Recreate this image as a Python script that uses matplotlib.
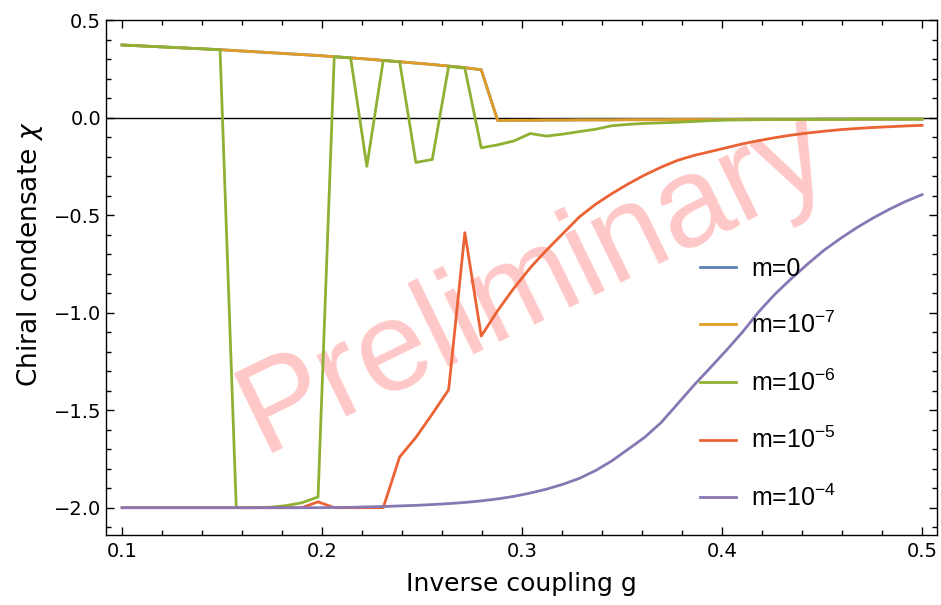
from matplotlib import pyplot as plt
from matplotlib.ticker import MultipleLocator

# inverse coupling grid
g = [0.1000, 0.1082, 0.1163, 0.1245, 0.1327, 0.1408, 0.1490, 0.1571, 0.1653, 0.1735,
     0.1816, 0.1898, 0.1980, 0.2061, 0.2143, 0.2224, 0.2306, 0.2388, 0.2469, 0.2551,
     0.2633, 0.2714, 0.2796, 0.2878, 0.2959, 0.3041, 0.3122, 0.3204, 0.3286, 0.3367,
     0.3449, 0.3531, 0.3612, 0.3694, 0.3776, 0.3857, 0.3939, 0.4020, 0.4102, 0.4184,
     0.4265, 0.4347, 0.4429, 0.4510, 0.4592, 0.4673, 0.4755, 0.4837, 0.4918, 0.5000]

chi_m7 = [0.372, 0.368, 0.364, 0.360, 0.356, 0.352, 0.348, 0.343, 0.338, 0.333,
          0.328, 0.323, 0.318, 0.312, 0.306, 0.300, 0.293, 0.286, 0.279, 0.272,
          0.264, 0.256, 0.245, -0.015, -0.014, -0.014, -0.013, -0.013, -0.012, -0.012,
          -0.012, -0.011, -0.011, -0.011, -0.010, -0.010, -0.010, -0.010, -0.009, -0.009,
          -0.009, -0.009, -0.009, -0.008, -0.008, -0.008, -0.008, -0.008, -0.008, -0.008]

chi_m0 = list(chi_m7)  # sits under the m=1e-7 curve

chi_m6 = [0.372, 0.368, 0.364, 0.360, 0.356, 0.352, 0.347, -2.000, -2.000, -1.998,
          -1.990, -1.975, -1.945, 0.312, 0.306, -0.250, 0.293, 0.286, -0.230, -0.215,
          0.262, 0.253, -0.155, -0.140, -0.120, -0.082, -0.095, -0.085, -0.072, -0.060,
          -0.042, -0.035, -0.030, -0.027, -0.024, -0.020, -0.016, -0.013, -0.012, -0.011,
          -0.010, -0.010, -0.009, -0.009, -0.009, -0.008, -0.008, -0.008, -0.008, -0.008]

chi_m5 = [-2.0, -2.0, -2.0, -2.0, -2.0, -2.0, -2.0, -2.0, -2.0, -2.0,
          -2.0, -2.0, -1.97, -2.0, -2.0, -2.0, -2.0, -1.74, -1.64, -1.52,
          -1.395, -0.59, -1.12, -0.99, -0.875, -0.77, -0.68, -0.595, -0.51, -0.445,
          -0.39, -0.34, -0.295, -0.255, -0.22, -0.195, -0.175, -0.155, -0.135, -0.118,
          -0.103, -0.09, -0.079, -0.07, -0.062, -0.056, -0.051, -0.047, -0.043, -0.04]

chi_m4 = [-2.0, -2.0, -2.0, -2.0, -2.0, -2.0, -2.0, -2.0, -2.0, -2.0,
          -2.0, -2.0, -2.0, -1.999, -1.998, -1.996, -1.994, -1.991, -1.988, -1.984,
          -1.979, -1.973, -1.965, -1.955, -1.942, -1.925, -1.905, -1.88, -1.85, -1.81,
          -1.76, -1.70, -1.64, -1.565, -1.47, -1.375, -1.285, -1.195, -1.10, -0.995,
          -0.905, -0.825, -0.75, -0.68, -0.62, -0.565, -0.515, -0.47, -0.43, -0.395]

labels = ['m=0', 'm=10$^{-7}$', 'm=10$^{-6}$', 'm=10$^{-5}$', 'm=10$^{-4}$']
colors = ['#5E81B5', '#E19C24', '#8FB032', '#EB6235', '#8778B3']

plt.rcParams['mathtext.fontset'] = 'custom'
plt.rcParams['mathtext.rm'] = 'Liberation Sans'
plt.rcParams['mathtext.it'] = 'DejaVu Sans:italic'
plt.rcParams['mathtext.default'] = 'regular'

fig = plt.figure(figsize=(9.41, 6.05), dpi=100)
ax = fig.add_axes([0.1127, 0.1157, 0.8831, 0.8512])

ax.axhline(0, color='black', lw=1.0, zorder=1)

for y, lab, c in zip([chi_m0, chi_m7, chi_m6, chi_m5, chi_m4], labels, colors):
    ax.plot(g, y, color=c, lw=2.0, label=lab, zorder=2)

# watermark
ax.text(0.515, 0.49, 'Preliminary', transform=ax.transAxes, rotation=26,
        fontsize=92, family='Liberation Sans', color='#ffc8c8',
        ha='center', va='center', zorder=0.5)

ax.set_xlim(0.092, 0.5075)
ax.set_ylim(-2.14, 0.5)
ax.xaxis.set_major_locator(MultipleLocator(0.1))
ax.xaxis.set_minor_locator(MultipleLocator(0.02))
ax.yaxis.set_major_locator(MultipleLocator(0.5))
ax.yaxis.set_minor_locator(MultipleLocator(0.1))
ax.tick_params(which='both', direction='in', top=True, right=True, labelsize=14, width=1.0)
ax.tick_params(which='major', length=6)
ax.tick_params(which='minor', length=3.5)
ax.tick_params(axis='x', pad=5)
ax.set_xticks([0.1, 0.2, 0.3, 0.4, 0.5])
ax.set_xticklabels(['0.1', '0.2', '0.3', '0.4', '0.5'])
for s in ax.spines.values():
    s.set_linewidth(1.0)

ax.set_xlabel('Inverse coupling g', fontsize=18, labelpad=8)
ax.set_ylabel('Chiral condensate $\\mathit{\\chi}$', fontsize=19, labelpad=6)
ax.yaxis.label.set_y(0.545)

ax.legend(loc='upper left', bbox_to_anchor=(0.7, 0.565), frameon=False,
          prop={'family': 'Liberation Sans', 'size': 18}, handlelength=1.45,
          handletextpad=0.6, labelspacing=1.25, borderpad=0)

plt.savefig('out.png')
